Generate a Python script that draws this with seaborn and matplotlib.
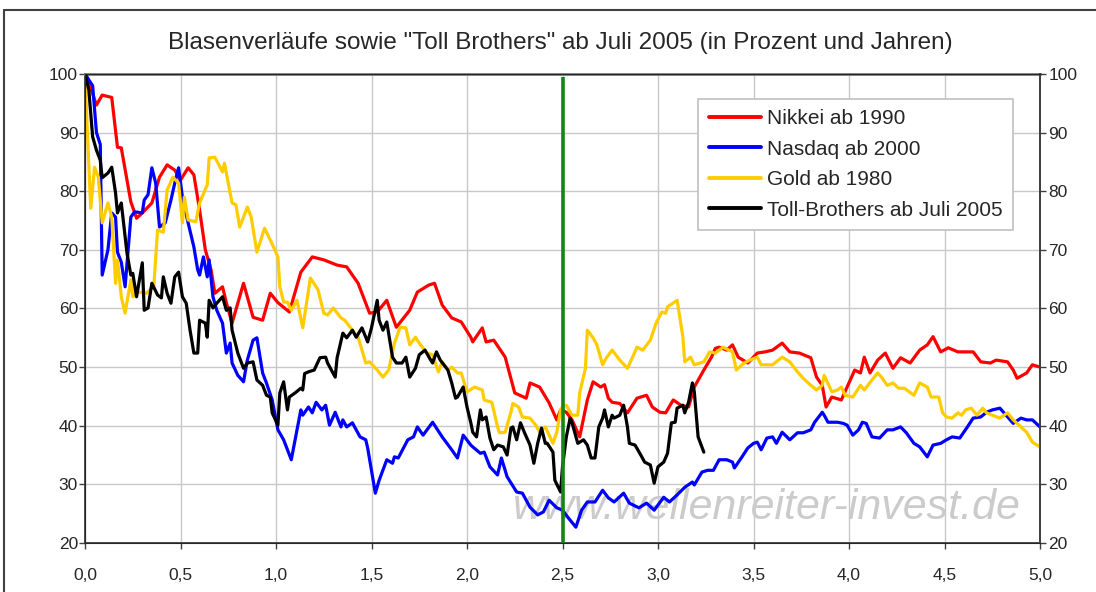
import pandas as pd
import seaborn as sns
import matplotlib.pyplot as plt
from matplotlib.lines import Line2D

# Jahre nach dem jeweiligen Hoch (x) und Kurs in Prozent vom Hoch (y)
nikkei_x = [0, 0.01, 0.06, 0.09, 0.14, 0.17, 0.19, 0.24, 0.27, 0.30,
            0.35, 0.39, 0.43, 0.47, 0.50, 0.54, 0.57, 0.60, 0.63, 0.66,
            0.68, 0.72, 0.74, 0.77, 0.83, 0.88, 0.93, 0.97, 1.01, 1.07,
            1.13, 1.19, 1.25, 1.32, 1.37, 1.43, 1.49, 1.53, 1.58, 1.63,
            1.70, 1.74, 1.80, 1.83, 1.87, 1.92, 1.97, 2.02, 2.03, 2.08,
            2.10, 2.14, 2.20, 2.25, 2.31, 2.33, 2.38, 2.43, 2.47, 2.49,
            2.52, 2.55, 2.59, 2.63, 2.66, 2.70, 2.72, 2.74, 2.76, 2.80,
            2.84, 2.89, 2.94, 2.97, 3.01, 3.04, 3.08, 3.12, 3.16, 3.19,
            3.24, 3.28, 3.30, 3.32, 3.36, 3.39, 3.42, 3.47, 3.52, 3.56,
            3.60, 3.65, 3.69, 3.74, 3.80, 3.83, 3.86, 3.88, 3.91, 3.96,
            3.99, 4.03, 4.06, 4.08, 4.11, 4.15, 4.19, 4.23, 4.27, 4.32,
            4.37, 4.41, 4.44, 4.48, 4.52, 4.57, 4.65, 4.69, 4.74, 4.77,
            4.83, 4.86, 4.88, 4.93, 4.96, 5.00]
nikkei_y = [100, 99.5, 94.7, 96.4, 96, 87.5, 87.4, 78.2, 75.4, 76.3,
            78, 82.4, 84.5, 83.6, 81.9, 84, 82.8, 76.8, 70, 66.6,
            62.6, 63.7, 61, 57.5, 64.3, 58.5, 58, 62.6, 61, 59.4,
            66.2, 68.8, 68.3, 67.4, 67.1, 64.3, 59.2, 59.4, 61.4, 56.8,
            59.7, 62.8, 64, 64.3, 60.6, 58.4, 57.7, 55.1, 54.3, 56.7,
            54.3, 54.6, 51.7, 45.6, 44.7, 47.3, 46.6, 43.9, 41, 42.7,
            42.3, 41, 38.1, 44.4, 47.5, 46.6, 47, 44.7, 44, 43.8,
            42.2, 44.7, 45.2, 43.2, 42.3, 42.2, 44.4, 43.5, 43.2, 46.6,
            49.5, 51.7, 53.2, 53.4, 52.9, 53.8, 51.7, 50.7, 52.4, 52.6,
            52.9, 54.1, 52.6, 52.4, 51.6, 48.3, 46.9, 43.2, 44.9, 44.4,
            46.6, 49.5, 49, 51.7, 49, 51.2, 52.4, 49.8, 51.6, 50.7,
            52.9, 53.8, 55.2, 52.6, 53.3, 52.6, 52.6, 50.9, 50.7, 51.2,
            50.9, 49.5, 48.1, 49, 50.4, 50]

nasdaq_x = [0, 0.04, 0.06, 0.08, 0.09, 0.12, 0.14, 0.16, 0.17, 0.19,
            0.21, 0.24, 0.26, 0.30, 0.31, 0.33, 0.35, 0.37, 0.39, 0.42,
            0.45, 0.47, 0.49, 0.51, 0.54, 0.57, 0.59, 0.60, 0.62, 0.64,
            0.65, 0.67, 0.69, 0.72, 0.74, 0.76, 0.77, 0.80, 0.83, 0.85,
            0.88, 0.90, 0.93, 0.95, 0.98, 1.01, 1.04, 1.08, 1.13, 1.14,
            1.17, 1.19, 1.21, 1.24, 1.26, 1.28, 1.31, 1.34, 1.35, 1.37,
            1.40, 1.44, 1.47, 1.48, 1.52, 1.54, 1.58, 1.61, 1.62, 1.64,
            1.69, 1.72, 1.74, 1.77, 1.82, 1.84, 1.87, 1.92, 1.95, 1.98,
            2.02, 2.03, 2.07, 2.09, 2.12, 2.16, 2.18, 2.21, 2.26, 2.29,
            2.33, 2.37, 2.40, 2.43, 2.47, 2.50, 2.53, 2.57, 2.60, 2.63,
            2.67, 2.71, 2.74, 2.77, 2.82, 2.85, 2.90, 2.94, 2.98, 3.03,
            3.06, 3.10, 3.14, 3.18, 3.19, 3.23, 3.26, 3.29, 3.32, 3.36,
            3.39, 3.40, 3.44, 3.47, 3.50, 3.52, 3.54, 3.57, 3.60, 3.62,
            3.65, 3.69, 3.73, 3.76, 3.80, 3.82, 3.86, 3.87, 3.89, 3.94,
            3.97, 3.99, 4.02, 4.05, 4.07, 4.09, 4.12, 4.16, 4.20, 4.23,
            4.27, 4.30, 4.34, 4.37, 4.41, 4.44, 4.48, 4.51, 4.54, 4.58,
            4.62, 4.65, 4.69, 4.72, 4.75, 4.79, 4.83, 4.86, 4.90, 4.93,
            4.96, 5.00]
nasdaq_y = [100, 98, 90, 88, 65.7, 70, 76.3, 75.6, 69.6, 67.9,
            63.7, 75.6, 76.5, 76.3, 78.5, 79.4, 84, 81.4, 73.9, 74.6,
            78.5, 81.4, 84, 79, 74.6, 70.5, 66.6, 65.7, 68.8, 65.4,
            68.3, 62, 59.7, 57.5, 52.4, 54.1, 50.7, 48.6, 47.5, 51.2,
            54.6, 55, 49, 47.3, 44.4, 39.3, 37.6, 34.2, 42.7, 41.8,
            43.2, 42.2, 44, 42.7, 43.5, 40.1, 42.3, 39.8, 41, 39.8,
            40.5, 38.1, 37.6, 36.2, 28.5, 30.7, 34.2, 33.6, 34.7, 34.5,
            37.6, 38.1, 39.8, 38.4, 40.6, 39.6, 38.1, 35.9, 34.5, 38.4,
            36.7, 36.4, 35.3, 35.5, 33, 31.6, 34.5, 31.3, 28.7, 28.5,
            26.1, 24.8, 25.3, 27.3, 26, 25.6, 24.3, 22.7, 25.6, 27,
            27, 29, 27.7, 27, 28.5, 26.8, 26, 26.8, 25.6, 27.8,
            27, 28.2, 29.5, 30.4, 29.9, 32.1, 32.4, 32.4, 34.2, 34.2,
            33.8, 32.8, 34.7, 36.2, 37, 37.2, 35.9, 37.9, 38.1, 37,
            38.9, 37.6, 38.8, 38.8, 39.3, 40.6, 42.3, 41.8, 40.6, 40.6,
            40.4, 40.1, 38.4, 39.3, 40.6, 40.4, 38.1, 37.9, 39.3, 39.3,
            39.8, 38.8, 37, 36.4, 34.7, 36.7, 37, 37.6, 38.1, 37.9,
            39.8, 41.3, 41.5, 42.3, 42.7, 43, 41.5, 40.4, 41.3, 41,
            41, 39.8]

gold_x = [0, 0.01, 0.03, 0.05, 0.07, 0.09, 0.12, 0.14, 0.16, 0.17,
          0.19, 0.21, 0.24, 0.25, 0.28, 0.32, 0.36, 0.38, 0.41, 0.43,
          0.46, 0.49, 0.51, 0.52, 0.54, 0.58, 0.60, 0.64, 0.65, 0.68,
          0.72, 0.73, 0.77, 0.79, 0.81, 0.85, 0.87, 0.90, 0.94, 0.98,
          1.01, 1.02, 1.04, 1.06, 1.08, 1.11, 1.14, 1.18, 1.22, 1.25,
          1.27, 1.30, 1.34, 1.36, 1.40, 1.43, 1.47, 1.49, 1.53, 1.56,
          1.59, 1.62, 1.65, 1.68, 1.70, 1.73, 1.75, 1.79, 1.82, 1.85,
          1.87, 1.90, 1.92, 1.95, 1.97, 2.00, 2.04, 2.08, 2.09, 2.13,
          2.16, 2.17, 2.20, 2.23, 2.24, 2.27, 2.29, 2.33, 2.36, 2.38,
          2.41, 2.45, 2.47, 2.49, 2.50, 2.52, 2.55, 2.58, 2.59, 2.62,
          2.63, 2.66, 2.68, 2.71, 2.73, 2.76, 2.80, 2.84, 2.86, 2.89,
          2.92, 2.96, 2.99, 3.02, 3.04, 3.05, 3.10, 3.13, 3.14, 3.17,
          3.19, 3.24, 3.27, 3.30, 3.34, 3.39, 3.41, 3.45, 3.48, 3.52,
          3.54, 3.60, 3.63, 3.65, 3.69, 3.73, 3.76, 3.80, 3.83, 3.86,
          3.87, 3.91, 3.94, 3.96, 3.98, 4.02, 4.06, 4.08, 4.12, 4.15,
          4.17, 4.20, 4.23, 4.26, 4.29, 4.34, 4.37, 4.41, 4.43, 4.47,
          4.49, 4.51, 4.54, 4.57, 4.59, 4.61, 4.64, 4.67, 4.70, 4.72,
          4.75, 4.79, 4.83, 4.86, 4.90, 4.93, 4.96, 5.00]
gold_y = [100, 92, 77.1, 84.1, 82.4, 74.6, 78, 75.6, 64.3, 68.3,
          62, 59.2, 64.9, 62, 62.8, 62.6, 63.7, 73.4, 73, 80.2,
          82.4, 81.4, 74.6, 79, 75.1, 74.8, 78, 81.1, 85.7, 85.8,
          83.3, 84.8, 78, 77.7, 73.9, 77.3, 75.6, 69.6, 73.7, 71,
          68.8, 63.7, 61.1, 61.1, 59.7, 61.4, 56.7, 65.2, 63.2, 59.2,
          58.9, 60.1, 58.4, 58, 56.3, 55.1, 50.7, 50.9, 49.5, 48.3,
          49.5, 54.1, 56.8, 56.7, 53.8, 55.1, 54.1, 52.4, 52.1, 49.2,
          50.9, 49.5, 50, 49, 49, 45.8, 46.6, 46.1, 44.4, 44,
          39.8, 38.8, 38.9, 42.3, 43.8, 43.2, 41.5, 41.3, 40.1, 38.9,
          39.8, 37, 38.9, 42.7, 43.2, 43.5, 41.8, 41.8, 45.6, 49.8,
          56.3, 55, 53.8, 50.4, 51.6, 52.9, 51.2, 49.8, 51.2, 53.4,
          52.9, 54.6, 57.5, 59.4, 59.2, 60.3, 61.4, 55.2, 50.9, 51.7,
          50.4, 50.9, 52.6, 52.4, 53.4, 52.6, 49.5, 50.7, 51.2, 51.7,
          50.4, 50.4, 51.2, 51.7, 50.9, 49.2, 48.1, 46.9, 46.1, 46.9,
          48.6, 45.8, 46.1, 46.6, 45.2, 44.9, 46.9, 46.1, 47.8, 49,
          48.3, 46.9, 47.3, 46.4, 46.4, 45.2, 47.3, 46.6, 44.9, 44.9,
          42.2, 41.5, 41.3, 42.2, 41.8, 42.7, 43, 41.8, 43, 42.2,
          41.8, 41.3, 42.2, 41, 39.8, 38.9, 37.2, 36.4]

toll_x = [0, 0.02, 0.04, 0.06, 0.08, 0.09, 0.12, 0.14, 0.16, 0.17,
          0.19, 0.20, 0.22, 0.24, 0.25, 0.27, 0.30, 0.31, 0.33, 0.35,
          0.38, 0.40, 0.41, 0.43, 0.45, 0.47, 0.49, 0.51, 0.53, 0.55,
          0.57, 0.59, 0.60, 0.63, 0.64, 0.65, 0.67, 0.69, 0.72, 0.74,
          0.76, 0.77, 0.80, 0.83, 0.85, 0.88, 0.90, 0.93, 0.95, 0.97,
          0.98, 1.01, 1.02, 1.04, 1.06, 1.07, 1.10, 1.13, 1.14, 1.15,
          1.17, 1.20, 1.23, 1.26, 1.27, 1.31, 1.32, 1.35, 1.37, 1.40,
          1.42, 1.45, 1.48, 1.50, 1.53, 1.54, 1.56, 1.58, 1.61, 1.63,
          1.66, 1.68, 1.70, 1.73, 1.75, 1.78, 1.81, 1.82, 1.84, 1.86,
          1.90, 1.92, 1.94, 1.95, 1.98, 2.00, 2.02, 2.03, 2.05, 2.07,
          2.08, 2.10, 2.12, 2.14, 2.16, 2.19, 2.21, 2.23, 2.24, 2.26,
          2.28, 2.30, 2.33, 2.35, 2.37, 2.39, 2.41, 2.42, 2.45, 2.46,
          2.49, 2.50, 2.52, 2.54, 2.55, 2.58, 2.59, 2.61, 2.63, 2.65,
          2.67, 2.69, 2.71, 2.72, 2.74, 2.76, 2.77, 2.80, 2.82, 2.84,
          2.85, 2.88, 2.91, 2.93, 2.96, 2.98, 3.00, 3.03, 3.05, 3.07,
          3.09, 3.10, 3.13, 3.14, 3.16, 3.18, 3.19, 3.21, 3.24]
toll_y = [100, 97.3, 89.3, 87, 85.3, 82.3, 83.1, 84.1, 79.7, 76.3,
          78, 75.1, 69.4, 65.7, 66, 62, 67.8, 59.7, 60.1, 64.3,
          62.3, 61.8, 65.4, 62.6, 60.9, 65.4, 66.2, 62, 60.9, 56.3,
          52.4, 52.4, 58, 57.5, 55.1, 61.4, 60.1, 60.9, 62, 59.7,
          60.1, 56.3, 52.4, 49.8, 50.7, 50.9, 47.8, 46.9, 45.2, 44.9,
          42.2, 40.1, 45.6, 47.5, 42.7, 44.9, 45.6, 46.4, 46.1, 48.9,
          49.2, 49.5, 51.6, 51.7, 50.7, 48.3, 51.6, 55.8, 55, 56.3,
          55.1, 56.7, 54.3, 56.7, 61.4, 58, 56.3, 57.7, 51.7, 50.7,
          50.7, 51.7, 48.3, 49.8, 52.1, 52.9, 51.2, 50.7, 52.6, 51.2,
          49.5, 47.3, 44.7, 44.9, 46.6, 43.2, 40.5, 38.9, 38.1, 42.7,
          41, 41.5, 37.9, 35.9, 36.7, 36.4, 35, 39.6, 39.8, 37.6,
          40.5, 38.9, 36.7, 33.6, 37, 39.6, 37, 37, 35.5, 30.7,
          28.7, 33, 38.1, 41.3, 40.5, 37, 37.2, 37.6, 36.7, 34.5,
          34.5, 39.8, 41.3, 42.7, 39.8, 41.8, 41.3, 41.8, 43.5, 39.8,
          37, 36.7, 35, 33.8, 33.3, 30.2, 33, 33.8, 35.3, 40.5,
          40.6, 43, 43.5, 42.2, 44, 47.3, 45.8, 38.1, 35.5]

series_names = ['Nikkei ab 1990', 'Nasdaq ab 2000', 'Gold ab 1980',
                'Toll-Brothers ab Juli 2005']
series_colors = ['#ff0000', '#0000ff', '#ffcc00', '#000000']

marker_year = 2.5      # gruene Linie
marker_top = 99.5
y_ticks = [20, 30, 40, 50, 60, 70, 80, 90, 100]
x_ticks = [0, 0.5, 1, 1.5, 2, 2.5, 3, 3.5, 4, 4.5, 5]
x_labels = ['0,0', '0,5', '1,0', '1,5', '2,0', '2,5', '3,0', '3,5', '4,0', '4,5', '5,0']

sns.set_style("white")
plt.rcParams['font.family'] = ['Liberation Sans', 'DejaVu Sans']

frames = []
for name, xs, ys in zip(series_names,
                        [nikkei_x, nasdaq_x, gold_x, toll_x],
                        [nikkei_y, nasdaq_y, gold_y, toll_y]):
    frames.append(pd.DataFrame({'Jahre': xs, 'Prozent': ys, 'Serie': name}))
df = pd.concat(frames, ignore_index=True)

fig = plt.figure(figsize=(10.96, 5.92), dpi=100)
ax = fig.add_axes([85 / 1096, 49 / 592, 955 / 1096, 469 / 592])

ax.text(3.57, 26, 'www.wellenreiter-invest.de', ha='center', va='center',
        fontsize=31, style='italic', color='#cbcbcb', zorder=1.5)

sns.lineplot(data=df, x='Jahre', y='Prozent', hue='Serie', hue_order=series_names,
             palette=series_colors, estimator=None, sort=False, linewidth=2.3,
             legend=False, ax=ax, zorder=3)
ax.vlines(marker_year, 20, marker_top, color='#118811', linewidth=2.6, zorder=4)

ax.set_xlim(0, 5)
ax.set_ylim(20, 100)
ax.set_xticks(x_ticks)
ax.set_xticklabels(x_labels)
ax.set_yticks(y_ticks)
ax.set_xlabel('')
ax.set_ylabel('')
ax.grid(True, color='#c8c8c8', linewidth=1)
ax.set_axisbelow(True)
ax.tick_params(axis='both', labelsize=12.5, length=4, width=1, color='#404040',
               direction='out')
ax.tick_params(axis='x', pad=14, bottom=True)
ax.tick_params(axis='y', pad=1, left=True)
for side in ['left', 'bottom', 'right']:
    ax.spines[side].set_color('#404040')
    ax.spines[side].set_linewidth(1.3)
ax.spines['top'].set_color('#808080')
ax.spines['top'].set_linewidth(2)

ax2 = ax.twinx()
ax2.set_ylim(20, 100)
ax2.set_yticks(y_ticks)
ax2.tick_params(axis='y', labelsize=12.5, length=4, width=1, color='#404040',
                direction='out', pad=2, right=True)
ax2.spines['right'].set_color('#404040')
ax2.spines['right'].set_linewidth(1.3)
ax2.grid(False)

handles = [Line2D([0], [0], color=c, lw=2.8) for c in series_colors]
leg = ax.legend(handles, series_names, loc='upper right', bbox_to_anchor=(0.972, 0.947),
                borderaxespad=0, fontsize=15, frameon=True, fancybox=False, framealpha=1,
                edgecolor='#c0c0c0', handlelength=2.5, handletextpad=0.3,
                labelspacing=0.55, borderpad=0.5)
leg.get_frame().set_linewidth(1.2)
leg.set_zorder(5)

fig.text(0.511, 0.927, 'Blasenverläufe sowie "Toll Brothers" ab Juli 2005 (in Prozent und Jahren)',
         ha='center', va='center', fontsize=17.5)

# Rahmen des Diagrammbereichs (links und oben)
fig.add_artist(Line2D([4 / 1096, 4 / 1096], [0, 1 - 10 / 592], color='#404040', lw=1.5))
fig.add_artist(Line2D([4 / 1096, 1], [1 - 10 / 592, 1 - 10 / 592], color='#404040', lw=1.5))

fig.savefig('out.png', dpi=100)
